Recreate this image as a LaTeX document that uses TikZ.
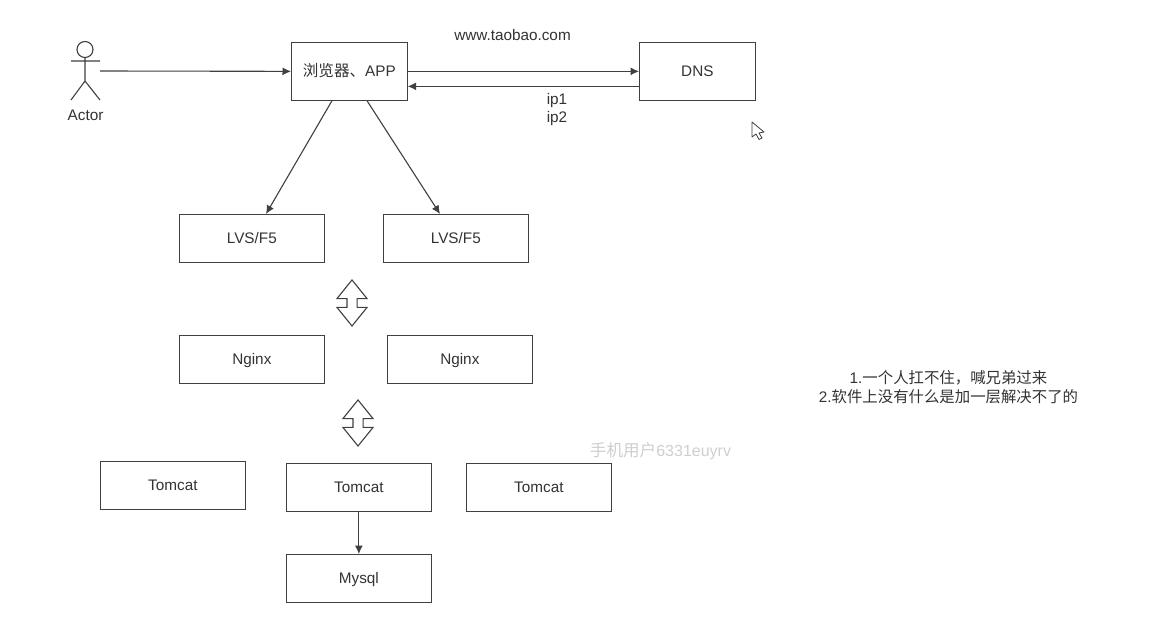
\documentclass[tikz,border=0pt]{standalone}
\usepackage{fontspec}
\setmainfont{Liberation Sans}
\newfontfamily\cjk{Noto Sans CJK SC}
\usetikzlibrary{arrows.meta,calc,shapes.arrows}
\definecolor{ink}{HTML}{333333}
\definecolor{edgec}{HTML}{404040}
\definecolor{wm}{HTML}{CFCFCF}
\tikzset{
  x=1pt,y=-1pt,
  lbl/.style={inner sep=0pt,text=ink,font=\fontsize{15.3}{18}\selectfont},
  box/.style={draw=edgec,line width=1.1pt,fill=white,inner sep=0pt,text=ink,anchor=north west,
    font=\fontsize{15.3}{18}\selectfont,minimum width=#1,minimum height=47.6pt,
    text height=11pt,text depth=1pt},
  box/.default=144.6pt,
  widebox/.style={box=115.6pt,minimum height=57.6pt,text height=10pt,text depth=0pt},
  conn/.style={draw=edgec,line width=1.1pt,-{Latex[length=8.5pt,width=8pt]}},
  stick/.style={draw=edgec,line width=1.1pt},
  dblarrow/.style={double arrow,draw=edgec,line width=1.1pt,fill=white,rotate=90,inner sep=0pt,
    text width=0pt,minimum height=46pt,minimum width=29pt,
    double arrow head extend=10pt,double arrow tip angle=78,inner ysep=4.5pt},
}
\begin{document}
\begin{tikzpicture}
\useasboundingbox (0,0) rectangle (1160,623);
\fill[white] (0,0) rectangle (1160,623);
% actor
\node[circle,stick,minimum size=16pt,inner sep=0pt] (head) at (85,49.5) {};
\coordinate (hip) at (85,81);
\coordinate (armL) at (71,61);
\coordinate (armR) at (100,61);
\coordinate (legL) at (71,100);
\coordinate (legR) at (100,100);
\coordinate (actorout) at (100,71);
\draw[stick] (head.south) -- (hip) (armL) -- (armR) (legL) -- (hip) -- (legR);
\node[lbl] (actor) at (85.5,115.5) {Actor};
% boxes
\node[widebox] (browser) at (291,42) {{\cjk\fontsize{15.6}{18}\selectfont 浏览器、}APP};
\node[widebox] (dns) at (639,42) {DNS};
\node[box] (lvsa) at (179,214) {LVS/F5};
\node[box] (lvsb) at (383,214) {LVS/F5};
\node[box] (nginxa) at (179,335) {Nginx};
\node[box] (nginxb) at (387,335) {Nginx};
\node[box] (tca) at (100,461) {Tomcat};
\node[box] (tcb) at (286,463) {Tomcat};
\node[box] (tcc) at (466,463) {Tomcat};
\node[box] (mysql) at (286,554) {Mysql};
% connectors
\draw[conn] (actorout) -- (browser.west);
\draw[conn] (browser.east) -- (dns.west);
\draw[conn] ($(dns.west)+(0,15)$) -- ($(browser.east)+(0,15)$);
\draw[conn] ($(browser.south west)+(41,0)$) -- ($(lvsa.north west)+(87,0)$);
\draw[conn] ($(browser.south west)+(76,0)$) -- ($(lvsb.north west)+(57,0)$);
\draw[conn] (tcb.south) -- (mysql.north);
% double arrows
\node[dblarrow] (dbla) at (352,303) {};
\node[dblarrow] (dblb) at (358,423) {};
% labels
\node[lbl] (url) at (512.5,35) {www.taobao.com};
\node[lbl] (ipa) at (557,100.5) {ip1};
\node[lbl] (ipb) at (557,118.5) {ip2};
\node[lbl] (notea) at (948.5,378) {1.{\cjk\fontsize{15.4}{18}\selectfont 一个人扛不住，喊兄弟过来}};
\node[lbl] (noteb) at (948.5,397) {2.{\cjk\fontsize{15.4}{18}\selectfont 软件上没有什么是加一层解决不了的}};
\node[lbl,text=wm,font=\fontsize{16}{18}\selectfont] (mark) at (660.5,451.5) {{\cjk\fontsize{16.6}{18}\selectfont 手机用户}6331euyrv};
% cursor
\draw[edgec,line width=.8pt,fill=white,line join=round] (752,122) -- (752,137) -- (756,134) -- (759,139.5) -- (762,138) -- (759,133) -- (764,132) -- cycle;
\end{tikzpicture}
\end{document}
